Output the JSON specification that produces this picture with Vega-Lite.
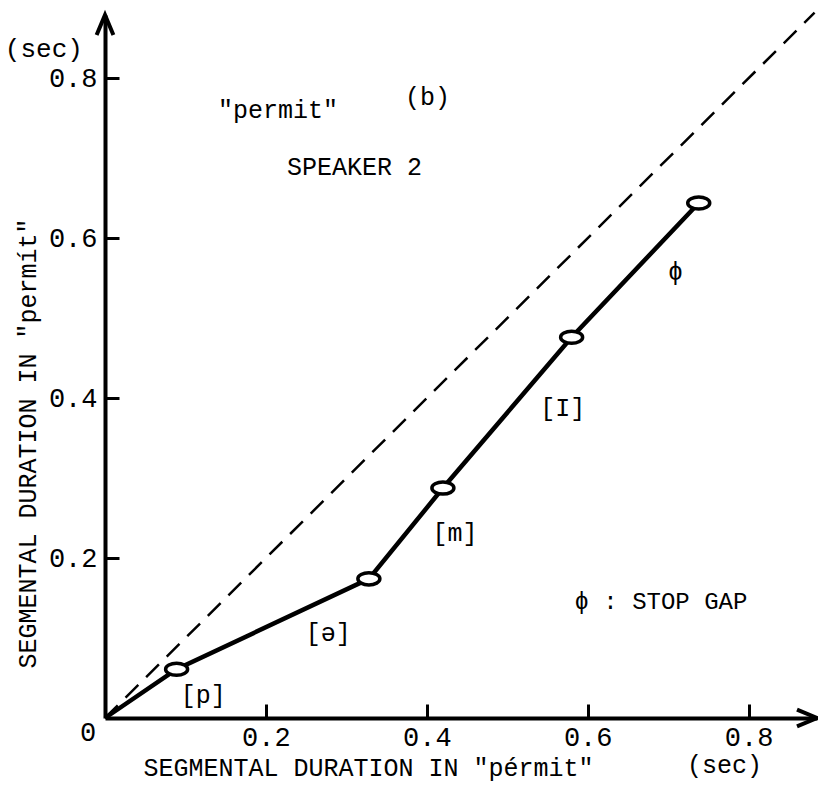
{
  "$schema": "https://vega.github.io/schema/vega-lite/v6.json",
  "width": 712,
  "height": 703,
  "autosize": "none",
  "padding": {"left": 105, "top": 15, "right": 1, "bottom": 70},
  "background": "white",
  "config": {
    "view": {"stroke": null},
    "font": "Liberation Mono",
    "text": {"font": "Liberation Mono", "color": "black"},
    "axis": {
      "grid": false,
      "domainColor": "black",
      "domainWidth": 4,
      "tickColor": "black",
      "tickWidth": 3,
      "tickSize": -14,
      "labelFont": "Liberation Mono",
      "labelFontSize": 27,
      "labelColor": "black",
      "titleFont": "Liberation Mono",
      "titleFontSize": 25,
      "titleFontWeight": "normal",
      "titleColor": "black"
    }
  },
  "datasets": {
    "curve": [
      {"x": 0, "y": 0},
      {"x": 0.089, "y": 0.061},
      {"x": 0.328, "y": 0.174},
      {"x": 0.42, "y": 0.2875},
      {"x": 0.58, "y": 0.476},
      {"x": 0.738, "y": 0.644}
    ],
    "markers": [
      {"x": 0.089, "y": 0.061},
      {"x": 0.328, "y": 0.174},
      {"x": 0.42, "y": 0.2875},
      {"x": 0.58, "y": 0.476},
      {"x": 0.738, "y": 0.644}
    ],
    "diag": [
      {"x": 0, "y": 0},
      {"x": 0.882, "y": 0.882}
    ],
    "labels": [
      {"x": 0.122, "y": 0.029, "t": "[p]", "s": 25},
      {"x": 0.2775, "y": 0.106, "t": "[ə]", "s": 25},
      {"x": 0.435, "y": 0.231, "t": "[m]", "s": 25},
      {"x": 0.569, "y": 0.387, "t": "[I]", "s": 25},
      {"x": 0.709, "y": 0.558, "t": "ϕ", "s": 25},
      {"x": 0.691, "y": 0.145, "t": "ϕ : STOP GAP", "s": 24},
      {"x": 0.215, "y": 0.76, "t": "\"permit\"", "s": 25},
      {"x": 0.401, "y": 0.776, "t": "(b)", "s": 25},
      {"x": 0.31, "y": 0.689, "t": "SPEAKER 2", "s": 25},
      {"x": -0.076, "y": 0.836, "t": "(sec)", "s": 26},
      {"x": -0.021, "y": -0.019, "t": "0", "s": 27},
      {"x": 0.77, "y": -0.059, "t": "(sec)", "s": 25}
    ],
    "arrows": [
      {"x": 0, "y": 0.879, "dir": "up"},
      {"x": 0.885, "y": 0, "dir": "right"}
    ]
  },
  "encoding": {
    "x": {
      "field": "x", "type": "quantitative",
      "scale": {"domain": [0, 0.885], "nice": false, "zero": false},
      "axis": {
        "values": [0.2, 0.4, 0.6, 0.8],
        "format": ".1f",
        "labelPadding": 20,
        "title": "SEGMENTAL DURATION IN \"pérmit\"",
        "titleAnchor": "start",
        "titleAlign": "left",
        "titleX": 38,
        "titleY": 57,
        "titleBaseline": "alphabetic"
      }
    },
    "y": {
      "field": "y", "type": "quantitative",
      "scale": {"domain": [0, 0.879], "nice": false, "zero": false},
      "axis": {
        "values": [0.2, 0.4, 0.6, 0.8],
        "format": ".1f",
        "labelPadding": 22,
        "title": "SEGMENTAL DURATION IN \"permít\"",
        "titleAngle": -90,
        "titleAlign": "left",
        "titleBaseline": "middle",
        "titleX": -78,
        "titleY": 653
      }
    }
  },
  "layer": [
    {
      "data": {"name": "diag"},
      "mark": {"type": "line", "color": "black", "strokeWidth": 2.5, "strokeDash": [18, 11]}
    },
    {
      "data": {"name": "curve"},
      "mark": {"type": "line", "color": "black", "strokeWidth": 4.5}
    },
    {
      "data": {"name": "markers"},
      "mark": {
        "type": "point",
        "shape": "M-1,0 A1,0.55 0 1,1 1,0 A1,0.55 0 1,1 -1,0 Z",
        "size": 484,
        "filled": true,
        "fill": "white",
        "stroke": "black",
        "strokeWidth": 3.5,
        "opacity": 1
      }
    },
    {
      "data": {"name": "arrows"},
      "transform": [{"filter": "datum.dir == 'up'"}],
      "mark": {
        "type": "point",
        "shape": "M-0.42,1 L0,0 L0.42,1",
        "size": 1600,
        "filled": false,
        "stroke": "black",
        "strokeWidth": 4,
        "opacity": 1
      }
    },
    {
      "data": {"name": "arrows"},
      "transform": [{"filter": "datum.dir == 'right'"}],
      "mark": {
        "type": "point",
        "shape": "M-1,-0.42 L0,0 L-1,0.42",
        "size": 1600,
        "filled": false,
        "stroke": "black",
        "strokeWidth": 4,
        "opacity": 1
      }
    },
    {
      "data": {"name": "labels"},
      "mark": {"type": "text", "align": "center", "baseline": "middle"},
      "encoding": {
        "text": {"field": "t"},
        "size": {"field": "s", "type": "quantitative", "scale": null}
      }
    }
  ]
}
